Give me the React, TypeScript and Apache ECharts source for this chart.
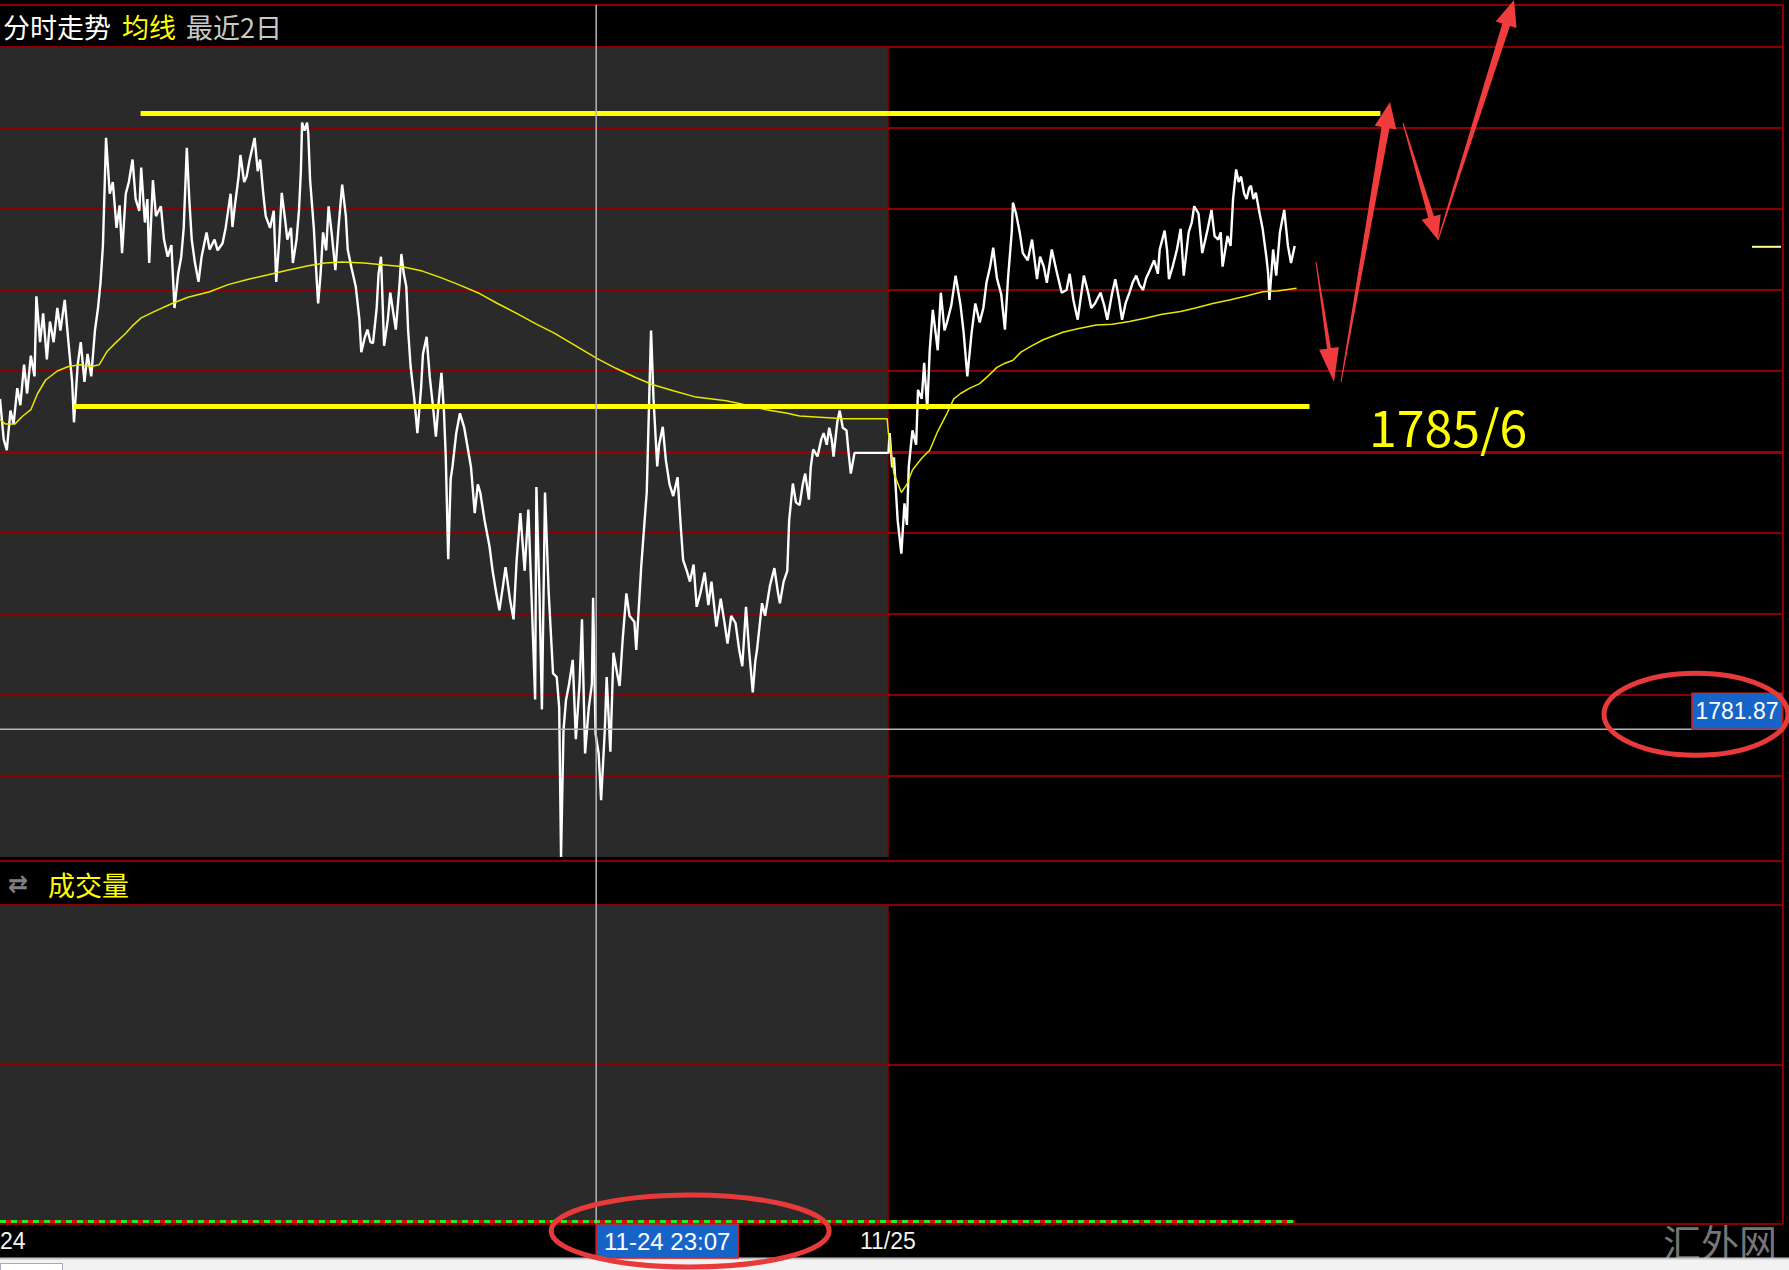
import React, { useEffect, useRef } from 'react';
import * as echarts from 'echarts';

// x = minutes after 07:00 on 11-24 (the 11/25 session starts at 1440), y = price
const day1Price: [number, number][] = [
  [0,1785.54],[6,1785.09],[11,1784.97],[17,1785.41],[22,1785.26],[28,1785.66],[33,1785.47],[39,1785.92],[44,1785.60],[50,1786.02],
  [56,1785.79],[59,1786.68],[65,1786.17],[70,1786.49],[76,1785.98],[81,1786.40],[87,1786.17],[93,1786.55],[98,1786.30],[105,1786.64],
  [111,1786.17],[117,1785.73],[120,1785.28],[126,1785.92],[131,1786.17],[137,1785.73],[142,1786.04],[148,1785.79],[154,1786.30],[159,1786.55],
  [163,1786.83],[167,1787.25],[172,1788.44],[178,1787.82],[183,1787.95],[189,1787.44],[194,1787.69],[198,1787.16],[204,1787.82],[209,1787.95],
  [215,1788.20],[220,1787.76],[226,1787.63],[229,1788.11],[235,1787.50],[239,1787.76],[242,1787.05],[248,1787.97],[253,1787.57],[261,1787.68],
  [266,1787.31],[272,1787.12],[278,1787.25],[283,1786.55],[289,1786.93],[294,1787.12],[298,1787.44],[303,1788.33],[307,1787.76],[311,1787.31],
  [316,1787.06],[322,1786.84],[327,1787.12],[335,1787.39],[340,1787.20],[348,1787.31],[353,1787.19],[361,1787.27],[366,1787.44],[374,1787.82],
  [377,1787.45],[381,1787.69],[387,1788.01],[390,1788.25],[396,1787.95],[400,1788.01],[405,1788.20],[413,1788.44],[418,1788.07],[422,1788.20],
  [427,1787.82],[431,1787.57],[438,1787.44],[444,1787.63],[448,1786.84],[453,1787.31],[457,1787.83],[463,1787.50],[466,1787.31],[472,1787.44],
  [475,1787.05],[481,1787.31],[485,1787.64],[488,1788.07],[490,1788.61],[494,1788.52],[498,1788.61],[500,1788.49],[503,1787.97],[509,1787.44],
  [512,1787.06],[516,1786.60],[520,1786.93],[524,1787.39],[529,1787.19],[533,1787.68],[538,1787.38],[544,1786.97],[549,1787.44],[555,1787.92],
  [561,1787.57],[564,1787.20],[570,1787.00],[577,1786.79],[583,1786.42],[586,1786.06],[592,1786.23],[596,1786.31],[601,1786.17],[605,1786.16],
  [611,1786.55],[614,1786.93],[618,1787.12],[623,1786.13],[629,1786.42],[633,1786.72],[638,1786.49],[642,1786.31],[648,1786.81],[651,1787.15],
  [655,1786.93],[659,1786.79],[662,1786.30],[666,1785.90],[672,1785.54],[677,1785.16],[683,1785.66],[686,1786.04],[692,1786.23],[697,1785.79],
  [703,1785.41],[707,1785.12],[712,1785.54],[716,1785.83],[720,1785.41],[723,1784.90],[727,1783.76],[731,1784.65],[734,1784.79],[740,1785.16],
  [746,1785.38],[753,1785.22],[759,1784.98],[764,1784.78],[770,1784.27],[775,1784.59],[779,1784.50],[786,1784.19],[794,1783.90],[799,1783.63],
  [805,1783.38],[810,1783.19],[816,1783.47],[820,1783.67],[827,1783.32],[833,1783.09],[838,1783.75],[844,1784.27],[851,1783.63],[857,1784.31],
  [862,1783.38],[868,1782.20],[870,1784.56],[875,1783.38],[879,1782.09],[884,1784.50],[890,1783.38],[897,1782.49],[903,1782.45],[907,1782.11],
  [910,1780.45],[914,1781.86],[918,1782.19],[923,1782.37],[929,1782.64],[934,1781.76],[940,1782.37],[944,1783.09],[949,1781.60],[955,1782.11],
  [960,1782.37],[962,1783.33],[966,1781.82],[971,1781.60],[975,1781.08],[981,1781.86],[984,1782.45],[990,1781.62],[995,1782.72],[1001,1782.49],
  [1005,1782.35],[1010,1782.87],[1016,1783.38],[1021,1783.13],[1029,1783.06],[1032,1782.75],[1040,1783.67],[1045,1784.14],[1049,1784.50],[1053,1785.54],
  [1056,1786.30],[1060,1785.54],[1066,1784.79],[1069,1785.03],[1075,1785.23],[1080,1784.86],[1086,1784.59],[1092,1784.46],[1099,1784.67],[1104,1784.14],
  [1108,1783.75],[1114,1783.63],[1119,1783.51],[1125,1783.70],[1130,1783.23],[1136,1783.38],[1143,1783.61],[1149,1783.25],[1154,1783.51],[1162,1783.01],
  [1169,1783.32],[1175,1783.06],[1180,1782.82],[1186,1783.13],[1193,1783.05],[1199,1782.75],[1204,1782.57],[1210,1783.23],[1215,1782.75],[1221,1782.28],
  [1225,1782.62],[1228,1782.76],[1236,1783.27],[1241,1783.13],[1249,1783.47],[1256,1783.66],[1262,1783.38],[1265,1783.27],[1271,1783.51],[1277,1783.63],
  [1280,1784.19],[1286,1784.60],[1291,1784.39],[1297,1784.36],[1302,1784.59],[1306,1784.71],[1312,1784.42],[1315,1784.78],[1319,1784.98],[1326,1784.90],
  [1332,1785.09],[1336,1785.16],[1341,1785.03],[1345,1785.22],[1349,1785.09],[1352,1784.90],[1358,1785.28],[1362,1785.41],[1367,1785.22],[1373,1785.19],
  [1376,1784.97],[1380,1784.71],[1386,1784.94],[1439,1784.94],
];

const day2Price: [number, number][] = [
  [1441,1784.94],[1443,1785.16],[1447,1784.78],[1450,1784.89],[1456,1784.19],[1462,1783.82],[1467,1784.38],[1471,1784.14],[1474,1784.79],[1480,1785.19],
  [1486,1785.03],[1489,1785.64],[1495,1785.54],[1499,1785.94],[1504,1785.42],[1508,1786.08],[1513,1786.53],[1521,1786.08],[1526,1786.72],[1532,1786.30],
  [1536,1786.39],[1543,1786.58],[1550,1786.91],[1558,1786.58],[1563,1786.28],[1569,1785.79],[1576,1786.28],[1582,1786.60],[1589,1786.39],[1595,1786.55],
  [1600,1786.83],[1606,1787.01],[1611,1787.22],[1617,1786.88],[1624,1786.70],[1630,1786.31],[1635,1786.88],[1641,1787.39],[1643,1787.72],[1648,1787.60],
  [1654,1787.39],[1659,1787.16],[1667,1787.08],[1674,1787.31],[1682,1786.87],[1687,1787.12],[1693,1787.01],[1698,1786.83],[1706,1787.20],[1713,1786.98],
  [1722,1786.72],[1730,1786.75],[1735,1786.93],[1741,1786.64],[1748,1786.42],[1758,1786.91],[1765,1786.72],[1770,1786.55],[1776,1786.60],[1785,1786.72],
  [1791,1786.58],[1796,1786.42],[1804,1786.72],[1809,1786.87],[1815,1786.65],[1820,1786.42],[1826,1786.61],[1832,1786.72],[1837,1786.83],[1843,1786.91],
  [1848,1786.81],[1854,1786.75],[1859,1786.88],[1865,1786.97],[1872,1787.08],[1878,1786.93],[1881,1787.20],[1889,1787.41],[1893,1787.19],[1896,1786.87],
  [1902,1787.01],[1909,1787.20],[1915,1787.43],[1920,1786.91],[1928,1787.39],[1933,1787.50],[1937,1787.68],[1944,1787.60],[1950,1787.16],[1955,1787.31],
  [1959,1787.43],[1965,1787.64],[1970,1787.35],[1976,1787.31],[1980,1787.39],[1983,1787.01],[1991,1787.35],[1996,1787.24],[2000,1787.76],[2005,1788.09],
  [2009,1787.95],[2013,1788.01],[2018,1787.82],[2022,1787.76],[2026,1787.88],[2029,1787.91],[2033,1787.76],[2037,1787.83],[2042,1787.64],[2048,1787.43],
  [2054,1787.12],[2057,1786.93],[2059,1786.64],[2065,1787.20],[2070,1786.91],[2076,1787.39],[2079,1787.50],[2083,1787.64],[2089,1787.24],[2094,1787.05],
  [2100,1787.24],
];

const day1Avg: [number, number][] = [
  [0,1785.31],[9,1785.26],[24,1785.26],[37,1785.35],[50,1785.42],[61,1785.60],[74,1785.75],[93,1785.85],[111,1785.90],[130,1785.92],
  [148,1785.90],[161,1785.92],[174,1786.07],[187,1786.16],[204,1786.27],[216,1786.36],[229,1786.44],[250,1786.51],[279,1786.60],[305,1786.67],
  [340,1786.73],[370,1786.81],[403,1786.87],[435,1786.92],[466,1786.97],[500,1787.02],[527,1787.05],[555,1787.06],[590,1787.05],[620,1787.03],
  [651,1787.01],[685,1786.96],[714,1786.89],[744,1786.81],[775,1786.72],[807,1786.60],[838,1786.49],[870,1786.37],[899,1786.27],[934,1786.13],
  [968,1785.99],[999,1785.88],[1030,1785.78],[1058,1785.70],[1092,1785.63],[1129,1785.56],[1178,1785.52],[1212,1785.47],[1243,1785.42],[1277,1785.38],
  [1297,1785.35],[1369,1785.32],[1439,1785.32],
];

const day2Avg: [number, number][] = [
  [1441,1785.16],[1450,1784.71],[1462,1784.50],[1471,1784.59],[1480,1784.75],[1495,1784.88],[1508,1784.97],[1521,1785.18],[1536,1785.38],[1547,1785.54],
  [1558,1785.60],[1573,1785.66],[1589,1785.71],[1602,1785.79],[1617,1785.89],[1628,1785.93],[1643,1785.97],[1656,1786.06],[1671,1786.12],[1693,1786.20],
  [1724,1786.28],[1748,1786.32],[1778,1786.36],[1804,1786.37],[1832,1786.40],[1859,1786.44],[1885,1786.48],[1915,1786.51],[1939,1786.55],[1967,1786.60],
  [1994,1786.64],[2020,1786.68],[2048,1786.73],[2072,1786.74],[2103,1786.77],
];

// annotation levels drawn on the chart: [startMinute, endMinute, price]
const resistanceLine = [228, 2239, 1788.71];
const supportLine = [120, 2124, 1785.46];
const prevClose = 1784.95;
const crossTime = 967; // 11-24 23:07
const crossPrice = 1781.87;
const dayBoundary = 1440;
const lastMinute = 2100;
const sideMarkerPrice = 1787.23;

const priceMin = 1780.45;
const priceMax = 1789.45;
const xMax = 2892;

const titleTexts = ['分时走势', '均线', '最近2日'];
const volumeTitle = '成交量';
const supportLabel = '1785/6';
const crossTimeLabel = '11-24 23:07';
const crossPriceLabel = '1781.87';
const dayLabels = ['24', '11/25'];
const watermark = '汇外网';

const CJK = '"Noto Sans CJK SC", sans-serif';
const NUM = '"Liberation Sans", Arial, sans-serif';
const RED_GRID = '#8a0000';
const GRAY_BG = '#2a2a2a';
const ARROW_RED = '#f03c3c';

function arrow(tx: number, ty: number, hx: number, hy: number, wTail: number, wShaft: number, headLen: number, headW: number) {
  const dx = hx - tx, dy = hy - ty;
  const L = Math.sqrt(dx * dx + dy * dy);
  const ux = dx / L, uy = dy / L;
  const nx = -uy, ny = ux;
  const bx = hx - ux * headLen, by = hy - uy * headLen;
  return {
    type: 'polygon',
    z: 20,
    shape: {
      points: [
        [tx + nx * wTail / 2, ty + ny * wTail / 2],
        [bx + nx * wShaft / 2, by + ny * wShaft / 2],
        [bx + nx * headW / 2, by + ny * headW / 2],
        [hx, hy],
        [bx - nx * headW / 2, by - ny * headW / 2],
        [bx - nx * wShaft / 2, by - ny * wShaft / 2],
        [tx - nx * wTail / 2, ty - ny * wTail / 2],
      ],
    },
    style: { fill: ARROW_RED },
  };
}

export default function App() {
  const ref = useRef<HTMLDivElement>(null);

  useEffect(() => {
    document.body.style.margin = '0';
    const chart = echarts.init(ref.current!, null, { renderer: 'svg' });
    const noMarkSym = ['none', 'none'];
    chart.setOption({
      animation: false,
      backgroundColor: '#000',
      grid: [
        { left: 0, top: 47, width: 1783, height: 810 },
        { left: 0, top: 905, width: 1783, height: 319 },
      ],
      xAxis: [
        { type: 'value', gridIndex: 0, min: 0, max: xMax, show: false },
        { type: 'value', gridIndex: 1, min: 0, max: xMax, show: false },
      ],
      yAxis: [
        { type: 'value', gridIndex: 0, min: priceMin, max: priceMax, show: false },
        {
          type: 'value', gridIndex: 0, min: 0, max: 10, interval: 1, z: 2,
          axisLabel: { show: false }, axisLine: { show: false }, axisTick: { show: false },
          splitLine: { show: true, showMinLine: false, lineStyle: { color: RED_GRID, width: 2 } },
        },
        {
          type: 'value', gridIndex: 1, min: 0, max: 2, interval: 1, z: 2,
          axisLabel: { show: false }, axisLine: { show: false }, axisTick: { show: false },
          splitLine: { show: true, lineStyle: { color: RED_GRID, width: 2 } },
        },
      ],
      series: [
        {
          name: 'bg', type: 'line', xAxisIndex: 0, yAxisIndex: 0, data: [], z: -1, silent: true,
          markArea: { silent: true, z: -1, itemStyle: { color: GRAY_BG }, data: [[{ xAxis: 0 }, { xAxis: dayBoundary }]] },
          markLine: {
            silent: true, symbol: noMarkSym, label: { show: false }, z: 2,
            lineStyle: { color: RED_GRID, width: 1.5, type: 'solid' },
            data: [{ xAxis: dayBoundary }],
          },
        },
        {
          name: 'prevClose', type: 'line', xAxisIndex: 0, yAxisIndex: 0, data: [], z: 2, silent: true,
          markLine: {
            silent: true, symbol: noMarkSym, label: { show: false }, z: 2,
            lineStyle: { color: '#9a0000', width: 3, type: 'solid' },
            data: [{ yAxis: prevClose }],
          },
        },
        {
          name: '分时', type: 'line', xAxisIndex: 0, yAxisIndex: 0, z: 3,
          data: [...day1Price, ...day2Price], showSymbol: false, symbol: 'none',
          lineStyle: { color: '#ffffff', width: 2.4 },
        },
        {
          name: '均线', type: 'line', xAxisIndex: 0, yAxisIndex: 0, z: 4,
          data: [...day1Avg, ...day2Avg], showSymbol: false, symbol: 'none',
          lineStyle: { color: '#e8e800', width: 1.5 },
        },
        {
          name: 'levels', type: 'line', xAxisIndex: 0, yAxisIndex: 0, data: [], z: 5, silent: true,
          markLine: {
            silent: true, symbol: noMarkSym, label: { show: false },
            lineStyle: { color: '#ffff00', width: 5, type: 'solid' },
            data: [
              [{ coord: [resistanceLine[0], resistanceLine[2]] }, { coord: [resistanceLine[1], resistanceLine[2]] }],
              [{ coord: [supportLine[0], supportLine[2]] }, { coord: [supportLine[1], supportLine[2]] }],
            ],
          },
        },
        {
          name: 'volBg', type: 'line', xAxisIndex: 1, yAxisIndex: 2, data: [], z: -1, silent: true,
          markArea: { silent: true, z: -1, itemStyle: { color: GRAY_BG }, data: [[{ xAxis: 0 }, { xAxis: dayBoundary }]] },
          markLine: {
            silent: true, symbol: noMarkSym, label: { show: false }, z: 2,
            lineStyle: { color: RED_GRID, width: 1.5, type: 'solid' },
            data: [{ xAxis: dayBoundary }],
          },
        },
        {
          name: volumeTitle, type: 'line', xAxisIndex: 1, yAxisIndex: 2, data: [], z: 3, silent: true,
          markLine: {
            silent: true, symbol: noMarkSym, label: { show: false },
            data: [
              [{ coord: [0, 0.02], lineStyle: { color: '#d01010', width: 3, type: 'solid' } }, { coord: [lastMinute, 0.02] }],
              [{ coord: [0, 0.02], lineStyle: { color: '#22ee22', width: 3, type: [6, 5] } }, { coord: [lastMinute, 0.02] }],
            ],
          },
        },
      ],
    });

    const px = (v: number) => chart.convertToPixel({ xAxisIndex: 0 }, v) as number;
    const py = (v: number) => chart.convertToPixel({ yAxisIndex: 0 }, v) as number;
    const xc = px(crossTime);
    const yc = py(crossPrice);
    const xDay2 = px(dayBoundary);
    const ySide = py(sideMarkerPrice);
    const ySupport = py(supportLine[2]);

    const priceBox = { x: 1692, w: 90, h: 36 };
    const timeBox = { w: 142, top: 1224, h: 34 };

    const elements: any[] = [
      // frame lines
      { type: 'line', z: 1, shape: { x1: 0, y1: 5, x2: 1783, y2: 5 }, style: { stroke: RED_GRID, lineWidth: 2 } },
      { type: 'line', z: 1, shape: { x1: 0, y1: 861, x2: 1783, y2: 861 }, style: { stroke: RED_GRID, lineWidth: 2 } },
      { type: 'line', z: 1, shape: { x1: 1783, y1: 5, x2: 1783, y2: 1224 }, style: { stroke: RED_GRID, lineWidth: 2 } },
      // titles
      { type: 'text', z: 10, x: 3, y: 26, style: { text: titleTexts[0], fill: '#ffffff', fontSize: 27, fontFamily: CJK, verticalAlign: 'middle' } },
      { type: 'text', z: 10, x: 122, y: 26, style: { text: titleTexts[1], fill: '#ffff00', fontSize: 27, fontFamily: CJK, verticalAlign: 'middle' } },
      { type: 'text', z: 10, x: 186, y: 26, style: { text: titleTexts[2], fill: '#c8c8c8', fontSize: 27, fontFamily: CJK, verticalAlign: 'middle' } },
      { type: 'text', z: 10, x: 8, y: 884, style: { text: '⇄', fill: '#808080', fontSize: 24, fontFamily: '"DejaVu Sans", sans-serif', verticalAlign: 'middle', fontWeight: 'bold' } },
      { type: 'text', z: 10, x: 48, y: 884, style: { text: volumeTitle, fill: '#ffff00', fontSize: 27, fontFamily: CJK, verticalAlign: 'middle' } },
      // crosshair
      { type: 'line', z: 8, shape: { x1: xc, y1: 5, x2: xc, y2: 1224 }, style: { stroke: '#b4b4b4', lineWidth: 1.5 } },
      { type: 'line', z: 8, shape: { x1: 0, y1: yc, x2: priceBox.x, y2: yc }, style: { stroke: '#b4b4b4', lineWidth: 1.5 } },
      // side marker
      { type: 'line', z: 8, shape: { x1: 1752, y1: ySide, x2: 1781, y2: ySide }, style: { stroke: '#ffff90', lineWidth: 2 } },
      // price label box
      { type: 'rect', z: 12, shape: { x: priceBox.x, y: yc - priceBox.h, width: priceBox.w, height: priceBox.h }, style: { fill: '#1764c8', stroke: '#d82020', lineWidth: 1.5 } },
      { type: 'text', z: 13, x: priceBox.x + priceBox.w / 2, y: yc - priceBox.h / 2, style: { text: crossPriceLabel, fill: '#ffffff', fontSize: 23, fontFamily: NUM, align: 'center', verticalAlign: 'middle' } },
      // time label box
      { type: 'rect', z: 12, shape: { x: xc, y: timeBox.top, width: timeBox.w, height: timeBox.h }, style: { fill: '#1764c8', stroke: '#d82020', lineWidth: 1.5 } },
      { type: 'text', z: 13, x: xc + timeBox.w / 2, y: timeBox.top + timeBox.h / 2, style: { text: crossTimeLabel, fill: '#ffffff', fontSize: 24, fontFamily: NUM, align: 'center', verticalAlign: 'middle' } },
      // day labels
      { type: 'text', z: 10, x: 0, y: 1241, style: { text: dayLabels[0], fill: '#f4f4f4', fontSize: 23, fontFamily: NUM, verticalAlign: 'middle' } },
      { type: 'text', z: 10, x: xDay2, y: 1241, style: { text: dayLabels[1], fill: '#f4f4e8', fontSize: 23, fontFamily: NUM, align: 'center', verticalAlign: 'middle' } },
      // watermark
      { type: 'text', z: 10, x: 1720, y: 1240, style: { text: watermark, fill: '#8c8c8c', opacity: 0.85, fontSize: 38, fontFamily: CJK, align: 'center', verticalAlign: 'middle' } },
      // bottom page strip
      { type: 'rect', z: 11, shape: { x: 0, y: 1258, width: 1789, height: 12 }, style: { fill: '#f2f2f2' } },
      { type: 'line', z: 11, shape: { x1: 0, y1: 1258.5, x2: 1789, y2: 1258.5 }, style: { stroke: '#c4c4c4', lineWidth: 2 } },
      { type: 'rect', z: 11, shape: { x: 0.5, y: 1263.5, width: 62, height: 8 }, style: { fill: '#ffffff', stroke: '#a8a8b8', lineWidth: 1 } },
      // annotation text
      { type: 'text', z: 20, x: 1369, y: ySupport + 19, style: { text: supportLabel, fill: '#ffff00', fontSize: 50, fontFamily: CJK, verticalAlign: 'middle' } },
      // hand-drawn arrows
      arrow(1316, 262, 1334, 382, 1, 4, 34, 20),
      arrow(1341, 382, 1390, 102, 1, 8, 26, 22),
      arrow(1403, 123, 1438, 240, 1, 6, 24, 20),
      arrow(1438, 240, 1514, 0, 1, 8, 26, 22),
      // ellipses
      { type: 'ellipse', z: 21, shape: { cx: xc + 94, cy: 1231, rx: 139, ry: 36 }, style: { fill: 'none', stroke: '#e83a3a', lineWidth: 5 } },
      { type: 'ellipse', z: 21, shape: { cx: 1696, cy: yc - 15, rx: 92, ry: 41 }, style: { fill: 'none', stroke: '#e83a3a', lineWidth: 5 } },
    ];
    chart.setOption({ graphic: { elements } });

    return () => chart.dispose();
  }, []);

  return <div ref={ref} style={{ position: 'absolute', left: 0, top: 0, width: 1789, height: 1270 }} />;
}
